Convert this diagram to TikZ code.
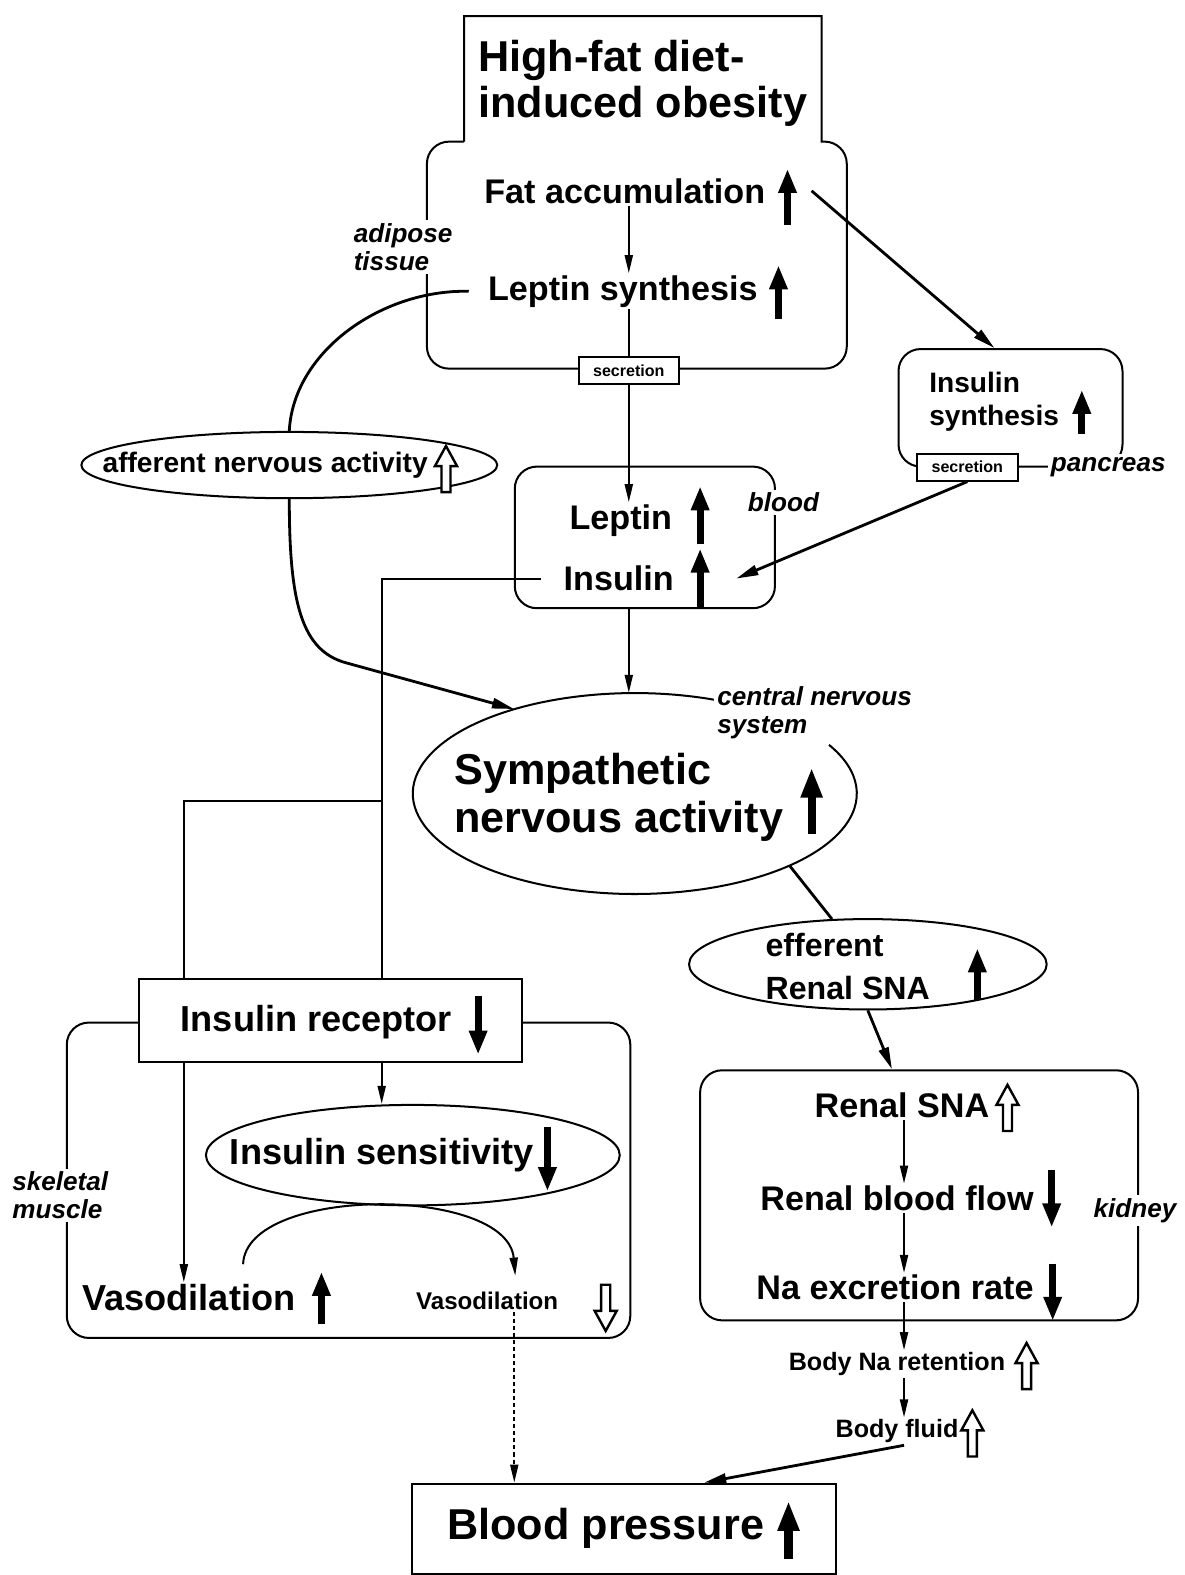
\documentclass[tikz,border=0pt]{standalone}
\usepackage{fontspec}
\setmainfont{Liberation Sans}
\usetikzlibrary{arrows.meta,positioning,shapes.geometric}

\begin{document}
\begin{tikzpicture}[
  x=1pt, y=-1pt,
  box/.style={draw, line width=2pt, rounded corners=22pt, inner sep=0pt},
  sqbox/.style={draw, fill=white, line width=2pt, inner sep=0pt},
  oval/.style={draw, ellipse, line width=2pt, inner sep=0pt},
  secbox/.style={draw, fill=white, line width=2pt, minimum width=100pt, minimum height=27pt, inner sep=0pt, font=\bfseries\fontsize{16}{18}\selectfont},
  huge/.style={font=\bfseries\fontsize{43}{46}\selectfont, align=left, inner sep=2pt},
  big/.style={font=\bfseries\fontsize{36}{40}\selectfont, inner sep=2pt},
  txt/.style={font=\bfseries\fontsize{34}{40}\selectfont, align=left, inner sep=2pt},
  mid/.style={font=\bfseries\fontsize{28}{32}\selectfont, align=left, inner sep=2pt},
  small/.style={font=\bfseries\fontsize{25}{28}\selectfont, inner sep=2pt},
  where/.style={font=\bfseries\itshape\fontsize{26}{28}\selectfont, fill=white, align=left, inner sep=3pt},
  link/.style={line width=2pt},
  heavy/.style={line width=2.8pt},
  arrow/.style={-{Triangle[length=18pt,width=8pt]}, line width=2pt},
  fatarrow/.style={-{Triangle[length=22pt,width=10pt]}, line width=2.8pt},
  upfill/.style={-{Triangle[length=24pt,width=17pt]}, line width=7pt},
  bigup/.style={-{Triangle[length=30pt,width=20pt]}, line width=8pt},
  hollow/.pic={\draw[line width=2.4pt, fill=white] (0,-23) -- (11,-3) -- (4.5,-3) -- (4.5,23) -- (-4.5,23) -- (-4.5,-3) -- (-11,-3) -- cycle;}
]
\useasboundingbox (0,0) rectangle (1179,1568);

% adipose tissue
\draw[link] (462,141) -- (462,16) -- (818,16) -- (818,141) [rounded corners=22pt] -- (843,141) -- (843,367) -- (425,367) -- (425,141) -- (462,141);
\node[huge, anchor=west] (obese) at (474,83) {High-fat diet-\\induced obesity};
\node[txt] (fat) at (622,190) {Fat accumulation};
\node[txt] (lepsyn) at (620,290) {Leptin synthesis};
\draw[upfill] (784,224) -- (784,168);
\draw[upfill] (775,318) -- (775,264);
\node[secbox] (sec1) at (626,369) {secretion};
\node[where, anchor=west] (adip) at (349,246) {adipose\\tissue};
\draw[arrow] (sec1 |- fat.south) -- (sec1 |- lepsyn.north);
\draw[link] (sec1 |- lepsyn.south) -- (sec1.north);

% pancreas
\node[box, minimum width=223pt, minimum height=117pt] (panc) at (1006,406) {};
\node[mid, anchor=west] (inssyn) at (923,400) {Insulin\\synthesis};
\draw[upfill] (1077,432) -- (1077,388);
\node[secbox] (sec2) at (963,465) {secretion};
\node[where, anchor=west] (pancl) at (1043,465) {pancreas};
\draw[fatarrow] ([xshift=44pt]fat.east) -- ([xshift=-16pt]panc.north);

% blood
\node[box, minimum width=259pt, minimum height=141pt] (bloodbox) at (642,535) {};
\node[where] (bloodl) at (780,500) {blood};
\node[txt] (leptin) at (618,518) {Leptin};
\node[txt] (insulin) at (616,576) {Insulin};
\draw[upfill] (697,542) -- (697,484);
\draw[upfill] (697,605) -- (697,546);
\draw[arrow] (sec1.south) -- (sec1.south |- leptin.north);
\draw[fatarrow] (sec2.south) -- ([xshift=60pt]insulin.east);

% afferent
\node[oval, minimum width=414pt, minimum height=66pt] (aff) at (288,463) {};
\node[mid] (afft) at (264,463) {afferent nervous activity};
\pic at (444,467) {hollow};
\draw[heavy] ([xshift=-17pt]lepsyn.west) .. controls (380,288) and (292,350) .. (aff.north);

% central nervous system
\node[ellipse, minimum width=442pt, minimum height=200pt, inner sep=0pt] (sna) at (632,790) {};
\draw[link] ([shift={(69:221pt and 100pt)}]sna.center) arc[start angle=69, end angle=389, x radius=221pt, y radius=100pt];
\node[huge, font=\bfseries\fontsize{43}{48}\selectfont, anchor=west] (snat) at (450,794) {Sympathetic\\nervous activity};
\draw[bigup] (808,830) -- (808,764);
\node[where, anchor=west] (cns) at (711,710) {central nervous\\system};
\draw[arrow] (bloodbox.south -| sec1) -- (sna.north -| sec1);
\draw[fatarrow] (aff.south) .. controls (288,600) and (300,648) .. (345,660) -- (sna.145);

% efferent
\node[oval, minimum width=356pt, minimum height=90pt] (eff) at (864,960) {};
\node[txt, font=\bfseries\fontsize{32}{43}\selectfont, anchor=west] (efft) at (760,962) {efferent\\Renal SNA};
\draw[upfill] (973,996) -- (973,944);
\draw[heavy] (sna.-25) -- (eff);

% kidney
\node[box, minimum width=436pt, minimum height=249pt] (kidney) at (915,1190) {};
\node[where] (kidl) at (1130,1205) {kidney};
\draw[fatarrow] (eff.south) -- ([xshift=-27pt]kidney.north);
\coordinate (col) at (900,1100);
\node[txt] (renal) at (898,1100) {Renal SNA};
\pic at (1003,1103) {hollow};
\node[txt] (rbf) at (893,1193) {Renal blood flow};
\draw[upfill] (1047,1165) -- (1047,1222);
\node[txt] (nax) at (891,1282) {Na excretion rate};
\draw[upfill] (1048,1258) -- (1048,1315);
\node[small] (bna) at (893,1358) {Body Na retention};
\pic at (1022,1360) {hollow};
\node[small] (fluid) at (893,1425) {Body fluid};
\pic at (968,1427) {hollow};
\draw[arrow] (renal.south -| col) -- (rbf.north -| col);
\draw[arrow] (rbf.south -| col) -- (nax.north -| col);
\draw[arrow] (nax.south -| col) -- (bna.north -| col);
\draw[arrow] (bna.south -| col) -- (fluid.north -| col);

% blood pressure
\node[sqbox, minimum width=422pt, minimum height=90pt] (bp) at (621,1522) {};
\node[huge] (bpt) at (603,1522) {Blood pressure};
\draw[bigup] (785,1552) -- (785,1494);
\draw[fatarrow] (fluid.south -| col) -- ([xshift=80pt]bp.north);

% skeletal muscle
\node[box, minimum width=561pt, minimum height=314pt] (muscle) at (347,1175) {};
\node[where] (musl) at (60,1190) {skeletal\\muscle};
\node[sqbox, minimum width=382pt, minimum height=83pt] (receptor) at (329,1016) {};
\node[big] (rect) at (315,1018) {Insulin receptor};
\draw[upfill] (476,992) -- (476,1050);
\coordinate (split) at (380,797);
\coordinate (leftx) at (183,797);
\draw[link] ([xshift=-20pt]insulin.west) -| (split) -- (split |- receptor.north);
\draw[link] (split) -- (leftx) -- (leftx |- receptor.north);
\node[oval, minimum width=412pt, minimum height=100pt] (sens) at (411,1150) {};
\node[big] (senst) at (380,1150) {Insulin sensitivity};
\draw[upfill] (545,1122) -- (545,1186);
\draw[arrow] (split |- receptor.south) -- (split |- sens.north);
\node[big] (vasol) at (188,1292) {Vasodilation};
\draw[upfill] (320,1318) -- (320,1266);
\node[font=\bfseries\fontsize{24}{28}\selectfont, inner sep=2pt] (vasor) at (485,1295) {Vasodilation};
\pic[rotate=180] at (603,1302) {hollow};
\draw[arrow] (leftx |- receptor.south) -- (leftx |- vasol.north);
\draw[arrow] ([xshift=54pt,yshift=18pt]vasol.north) .. controls (245,1180) and (505,1180) .. ([xshift=28pt,yshift=14pt]vasor.north);
\draw[arrow, dash pattern=on 4pt off 3pt] ([xshift=27pt]vasor.south) -- ([xshift=27pt]vasor.south |- bp.north);
\end{tikzpicture}
\end{document}
